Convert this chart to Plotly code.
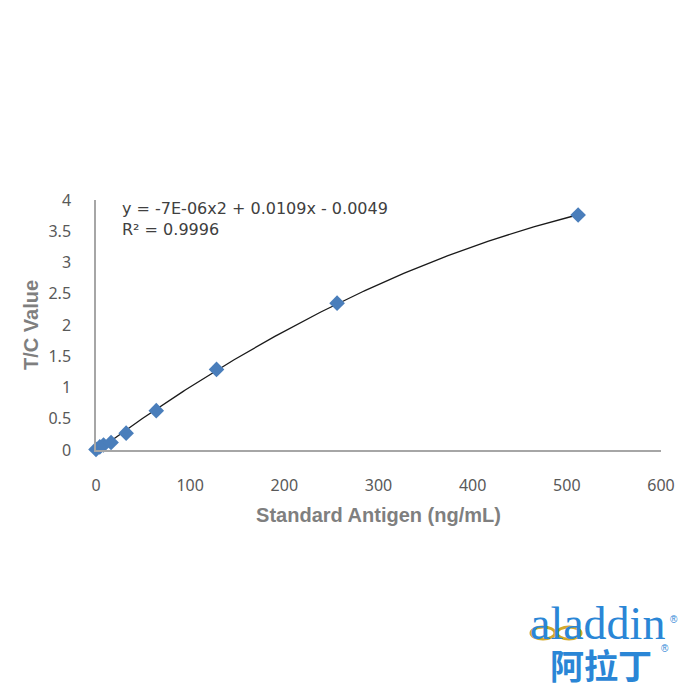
import numpy as np
import plotly.graph_objects as go

# Data
concentration = [0, 4, 8, 16, 32, 64, 128, 256, 512]
tc_value = [0.01, 0.05, 0.08, 0.12, 0.27, 0.63, 1.29, 2.35, 3.76]

x_ticks = [0, 100, 200, 300, 400, 500, 600]
y_ticks = [0, 0.5, 1, 1.5, 2, 2.5, 3, 3.5, 4]
y_tick_text = ["0", "0.5", "1", "1.5", "2", "2.5", "3", "3.5", "4"]

equation_text = "y = -7E-06x2 + 0.0109x - 0.0049<br>R² = 0.9996"

# Polynomial (order 2) trendline fitted to the data, like Excel does
coef = np.polyfit(concentration, tc_value, 2)
fit_x = np.linspace(min(concentration), max(concentration), 200)
fit_y = np.polyval(coef, fit_x)

fig = go.Figure()
fig.add_trace(go.Scatter(
    x=fit_x, y=fit_y, mode="lines",
    line=dict(color="#1a1a1a", width=1.3),
    hoverinfo="skip", showlegend=False,
))
fig.add_trace(go.Scatter(
    x=concentration, y=tc_value, mode="markers",
    marker=dict(symbol="diamond", size=12, color="#4a7ebb",
                line=dict(width=0)),
    cliponaxis=False, showlegend=False,
))

tick_font = dict(family="Noto Sans, Open Sans, sans-serif", size=16, color="#595959")
title_font = dict(family="Liberation Sans, Arial, sans-serif", size=20, color="#7f7f7f")

# page body has an 8px default margin; margins compensate for it
fig.update_layout(
    width=700, height=700,
    paper_bgcolor="white", plot_bgcolor="white",
    margin=dict(l=88, r=47, t=192, b=258, autoexpand=False),
    xaxis=dict(
        range=[0, 600], tickvals=x_ticks, showgrid=False, zeroline=False,
        showline=True, linecolor="#a6a6a6", linewidth=1.5,
        ticks="outside", ticklen=20, tickcolor="rgba(0,0,0,0)",
        tickfont=tick_font,
        title=dict(text="<b>Standard Antigen (ng/mL)</b>", font=title_font, standoff=13),
    ),
    yaxis=dict(
        range=[0, 4], tickvals=y_ticks, ticktext=y_tick_text,
        showgrid=False, zeroline=False,
        showline=True, linecolor="#a6a6a6", linewidth=1.5,
        ticks="outside", ticklen=20, tickcolor="rgba(0,0,0,0)",
        tickfont=tick_font,
        title=dict(text="<b>T/C Value</b>", font=title_font, standoff=4),
    ),
)


def px(xp, yp):
    # convert screenshot pixel coords to paper coords of the plot area
    return (xp - 96) / (661 - 96), (450 - yp) / (450 - 200)


ann = []
ex, ey = px(121, 219)
ann.append(dict(x=ex, y=ey, xref="paper", yref="paper", xanchor="left", yanchor="middle",
                text=equation_text, showarrow=False, align="left", borderpad=0,
                font=dict(family="DejaVu Sans, Noto Sans, sans-serif", size=16, color="#404040")))
lx, ly = px(597, 623)
ann.append(dict(x=lx, y=ly, xref="paper", yref="paper", xanchor="center", yanchor="middle",
                showarrow=False, text="aladdin", borderpad=0,
                font=dict(family="Liberation Serif, DejaVu Serif, serif", size=46, color="#2a86d6")))
rx, ry = px(674, 619)
ann.append(dict(x=rx, y=ry, xref="paper", yref="paper", xanchor="center", yanchor="middle",
                showarrow=False, text="®", borderpad=0,
                font=dict(family="Liberation Sans, sans-serif", size=10, color="#2a86d6")))
cx, cy = px(601, 664)
ann.append(dict(x=cx, y=cy, xref="paper", yref="paper", xanchor="center", yanchor="middle",
                showarrow=False, text="<b>阿拉丁</b>", borderpad=0,
                font=dict(family="Noto Sans CJK SC", size=34, color="#2a86d6")))
r2x, r2y = px(665, 648)
ann.append(dict(x=r2x, y=r2y, xref="paper", yref="paper", xanchor="center", yanchor="middle",
                showarrow=False, text="®", borderpad=0,
                font=dict(family="Liberation Sans, sans-serif", size=10, color="#2a86d6")))
fig.update_layout(annotations=ann)

# gold rings of the logo
for cxp in (543, 569):
    x0, y0 = px(cxp - 12, 639)
    x1, y1 = px(cxp + 12, 627)
    fig.add_shape(type="circle", xref="paper", yref="paper",
                  x0=x0, y0=y0, x1=x1, y1=y1,
                  line=dict(color="#d4a92a", width=3))

fig.write_html("out.html")
